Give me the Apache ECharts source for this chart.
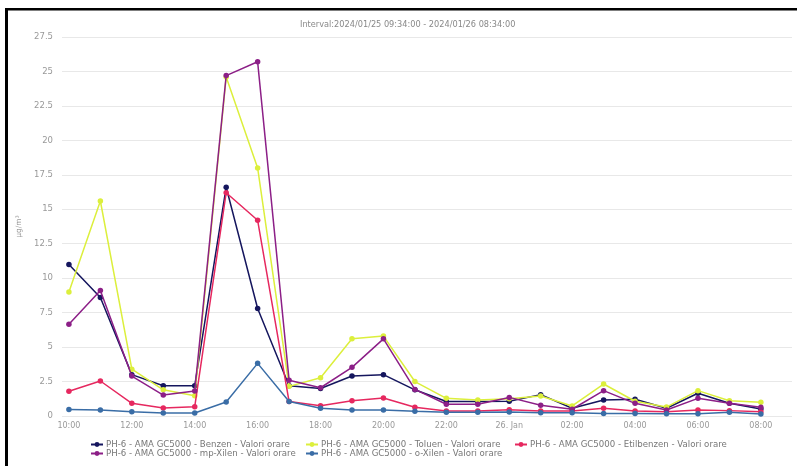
<!DOCTYPE html>
<html>
<head>
<meta charset="utf-8">
<script src="https://cdn.jsdelivr.net/npm/echarts@6/dist/echarts.min.js"></script>
<style>
html,body{margin:0;padding:0;background:#fff;}
#main{width:797px;height:466px;}
</style>
</head>
<body>
<div id="main"></div>
<script>
var hours = ["10:00","11:00","12:00","13:00","14:00","15:00","16:00","17:00","18:00","19:00","20:00","21:00","22:00","23:00","00:00","01:00","02:00","03:00","04:00","05:00","06:00","07:00","08:00"];
var tickLabels = ["10:00","12:00","14:00","16:00","18:00","20:00","22:00","26. Jan","02:00","04:00","06:00","08:00"];
var yTicks = [0,2.5,5,7.5,10,12.5,15,17.5,20,22.5,25,27.5];
var seriesNames = [
  "PH-6 - AMA GC5000 - Benzen - Valori orare",
  "PH-6 - AMA GC5000 - Toluen - Valori orare",
  "PH-6 - AMA GC5000 - Etilbenzen - Valori orare",
  "PH-6 - AMA GC5000 - mp-Xilen - Valori orare",
  "PH-6 - AMA GC5000 - o-Xilen - Valori orare"
];
var benzen = [11.0, 8.6, 3.0, 2.2, 2.2, 16.6, 7.8, 2.2, 2.0, 2.9, 3.0, 1.9, 1.05, 1.05, 1.07, 1.55, 0.56, 1.16, 1.21, 0.56, 1.65, 0.92, 0.51];
var toluen = [9.0, 15.6, 3.4, 1.9, 1.47, 24.6, 18.0, 2.15, 2.78, 5.6, 5.8, 2.5, 1.28, 1.16, 1.26, 1.45, 0.73, 2.32, 1.07, 0.65, 1.84, 1.11, 0.99];
var etilbenzen = [1.8, 2.54, 0.92, 0.58, 0.68, 16.2, 14.2, 1.05, 0.75, 1.11, 1.3, 0.63, 0.36, 0.36, 0.46, 0.36, 0.36, 0.56, 0.36, 0.31, 0.44, 0.39, 0.31];
var mpXilen = [6.65, 9.1, 2.9, 1.52, 1.81, 24.7, 25.7, 2.6, 2.05, 3.53, 5.6, 1.93, 0.85, 0.85, 1.35, 0.78, 0.49, 1.84, 0.92, 0.44, 1.28, 0.92, 0.63];
var oXilen = [0.48, 0.44, 0.31, 0.22, 0.22, 1.02, 3.82, 1.05, 0.56, 0.44, 0.44, 0.34, 0.27, 0.27, 0.29, 0.24, 0.24, 0.19, 0.19, 0.17, 0.17, 0.27, 0.15];
var colors = ["#15165e", "#dcef3c", "#e6285f", "#8c1f87", "#3a6da6"];

var allData = [benzen, toluen, etilbenzen, mpXilen, oXilen];
var labelPositions = [];
for (var i = 0; i < hours.length; i += 2) labelPositions.push(i);

var FONT = "DejaVu Sans, Verdana, sans-serif";
var chart = echarts.init(document.getElementById('main'), null, {renderer: 'canvas'});

var series = allData.map(function (arr, k) {
  return {
    name: seriesNames[k],
    type: 'line',
    data: arr.map(function (v, i) { return [i, v]; }),
    symbol: 'circle',
    symbolSize: 5.5,
    lineStyle: {width: 1.5, color: colors[k]},
    itemStyle: {color: colors[k]},
    emphasis: {disabled: true},
    z: 2 + k
  };
});

var legendPos = [[90, 440], [305, 440], [514, 440], [90, 449], [305, 449]];
var legends = seriesNames.map(function (n, k) {
  return {
    data: [n],
    left: legendPos[k][0],
    top: legendPos[k][1],
    itemWidth: 12,
    itemHeight: 6,
    itemGap: 3,
    padding: 0,
    textStyle: {fontSize: 8.6, color: '#777', fontFamily: FONT, padding: [0, 0, 0, -2]},
    selectedMode: false
  };
});

chart.setOption({
  animation: false,
  color: colors,
  title: {
    text: "Interval:2024/01/25 09:34:00 - 2024/01/26 08:34:00",
    left: 300,
    top: 21,
    padding: 0,
    textStyle: {fontSize: 8.2, fontWeight: 'normal', color: '#888', fontFamily: FONT}
  },
  legend: legends,
  grid: {left: 62, right: 5, top: 37, bottom: 50, containLabel: false},
  xAxis: {
    type: 'value',
    min: -0.22,
    max: 22.99,
    axisLine: {show: false},
    axisTick: {show: false},
    splitLine: {show: false},
    axisLabel: {
      customValues: labelPositions,
      formatter: function (v) { return tickLabels[Math.round(v) / 2] || ''; },
      fontSize: 8,
      color: '#999',
      margin: 6,
      fontFamily: FONT
    }
  },
  yAxis: {
    type: 'value',
    min: 0,
    max: 27.5,
    interval: 2.5,
    name: 'µg/m³',
    nameLocation: 'middle',
    nameGap: 37,
    nameTextStyle: {fontSize: 7.5, color: '#999', fontFamily: FONT},
    axisLine: {show: false},
    axisTick: {show: false},
    axisLabel: {fontSize: 8.5, color: '#999', margin: 9, fontFamily: FONT},
    splitLine: {lineStyle: {color: '#e8e8e8', width: 1}}
  },
  graphic: [
    {type: 'rect', shape: {x: 5, y: 8, width: 792, height: 2.5}, style: {fill: '#000'}, silent: true},
    {type: 'rect', shape: {x: 5, y: 8, width: 3, height: 458}, style: {fill: '#000'}, silent: true}
  ],
  series: series
});
</script>
</body>
</html>
